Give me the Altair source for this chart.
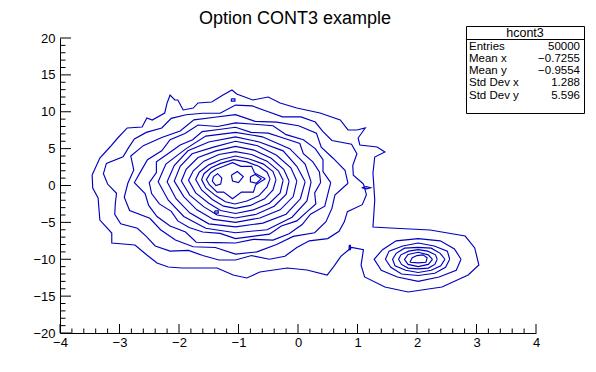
import altair as alt
import pandas as pd

# ---------------- text ----------------
TITLE = "Option CONT3 example"
STAT_HEADER = "hcont3"
stat_names = ["Entries", "Mean x", "Mean y", "Std Dev x", "Std Dev y"]
stat_values = ["50000", "\u22120.7255", "\u22120.9554", "1.288", "5.596"]

# ---------------- axes ----------------
x_major = [-4, -3, -2, -1, 0, 1, 2, 3, 4]
y_major = [-20, -15, -10, -5, 0, 5, 10, 15, 20]
x_minor = [-3.8, -3.6, -3.4, -3.2, -2.8, -2.6, -2.4, -2.2, -1.8, -1.6, -1.4, -1.2,
           -0.8, -0.6, -0.4, -0.2, 0.2, 0.4, 0.6, 0.8, 1.2, 1.4, 1.6, 1.8,
           2.2, 2.4, 2.6, 2.8, 3.2, 3.4, 3.6, 3.8]
y_minor = [-19, -18, -17, -16, -14, -13, -12, -11, -9, -8, -7, -6, -4, -3, -2, -1,
           1, 2, 3, 4, 6, 7, 8, 9, 11, 12, 13, 14, 16, 17, 18, 19]

# ---------------- contour lines ----------------
outer_x = [-3.46, -3.33, -3.16, -3.03, -2.87, -2.62, -2.54, -2.45, -2.24, -2.20, -2.15, -2.07,
           -2.02, -1.93, -1.76, -1.68, -1.45, -1.26, -1.11, -1.03, -0.76, -0.50, -0.30, -0.02,
           0.37, 0.71, 0.84, 0.99, 1.13, 1.01, 1.04, 1.33, 1.46, 1.29, 1.26, 1.29, 1.26, 1.55,
           2.22, 2.81, 2.97, 3.04, 2.86, 2.42, 1.85, 1.46, 1.12, 1.06, 1.10, 0.90, 0.72, 0.60,
           0.49, 0.15, -0.18, -0.64, -0.86, -1.09, -1.36, -1.95, -2.18, -2.37, -2.54, -2.74,
           -3.13, -3.13, -3.33, -3.36, -3.45]
outer_y = [1.42, 3.73, 5.22, 6.44, 7.80, 7.93, 9.15, 8.88, 9.83, 11.19, 12.27, 11.60,
           11.60, 10.24, 10.50, 11.19, 11.32, 12.27, 12.95, 12.41, 11.60, 12.00, 11.19, 10.50,
           9.83, 8.88, 7.53, 7.53, 7.80, 6.44, 5.49, 5.22, 4.54, 3.86, 1.69, -1.97, -5.63, -5.76,
           -6.03, -6.85, -8.47, -10.78, -12.14, -13.76, -14.44, -13.76, -12.40, -10.80, -8.70, -8.40, -9.60, -11.00,
           -12.14, -11.46, -11.19, -11.73, -12.54, -12.14, -11.19, -11.19, -11.05, -10.51, -9.42, -8.07,
           -7.80, -6.44, -4.68, -1.69, -0.34]

c2_x = [1.10, 0.93, 0.92, 0.99, 0.90, 0.57, 0.42, 0.29, 0.05, -0.26,
        -0.50, -0.77, -1.05, -1.31, -1.60, -1.88, -2.13, -2.29, -2.55, -2.75,
        -2.85, -2.94, -3.22, -3.27, -3.20, -3.05, -3.07, -3.08, -2.98, -2.70,
        -2.55, -2.40, -2.15, -1.84, -1.60, -1.33, -1.05, -0.78, -0.48, -0.22,
        -0.02, 0.19, 0.50, 0.69, 0.78, 0.83, 1.08, 1.15]
c2_y = [0.2, 1.4, 2.7, 4.3, 5.6, 6.1, 7.3, 8.6, 9.3, 9.3,
        10.0, 10.8, 10.9, 9.8, 9.8, 9.6, 9.1, 7.8, 7.2, 6.3,
        5.1, 3.9, 3.0, 1.6, 0.2, -1.05, -2.4, -3.9, -5.2, -5.8,
        -6.9, -8.2, -8.9, -8.8, -9.5, -10.1, -10.1, -9.5, -10.0, -9.6,
        -8.4, -7.5, -7.2, -6.2, -4.9, -3.55, -2.6, -1.25]

c3_x = [0.84, 0.79, 0.59, 0.39, 0.31, 0.01, -0.36, -0.72, -1.05, -1.40, -1.75, -1.98, -2.29, -2.60, -2.81, -2.76,
        -2.86, -2.92, -2.83, -2.49, -2.31, -2.06, -1.76, -1.39, -1.05, -0.69, -0.36, -0.08, 0.28, 0.47, 0.57, 0.62]
c3_y = [0.3, 2.07, 3.7, 5.2, 7.1, 8.1, 8.6, 8.7, 9.6, 9.25, 8.9, 7.4, 6.5, 5.4, 4.0, 2.1,
        0.3, -1.6, -3.4, -4.45, -6.0, -7.4, -8.3, -8.4, -9.3, -9.0, -8.0, -6.9, -6.4, -4.9, -3.1, -1.3]

c4_x = [0.55, 0.42, 0.42, 0.29, 0.09, -0.20, -0.42, -0.73, -1.05, -1.35, -1.68, -1.90, -2.15, -2.29, -2.53, -2.64,
        -2.75, -2.57, -2.51, -2.37, -2.15, -1.89, -1.71, -1.38, -1.05, -0.75, -0.42, -0.15, 0.07, 0.21, 0.45, 0.50]
c4_y = [0.4, 1.9, 3.5, 5.0, 6.2, 6.9, 8.1, 8.3, 8.5, 8.0, 8.2, 7.06, 6.2, 4.7, 3.5, 1.95,
        0.4, -1.1, -2.7, -4.2, -5.5, -6.3, -7.7, -7.75, -7.8, -7.3, -7.4, -6.55, -5.3, -3.9, -2.8, -1.2]

c5_x = [0.38, 0.36, 0.25, 0.09, 0.03, -0.235, -0.50, -0.79, -1.05, -1.33, -1.61, -1.77, -1.98, -2.18, -2.38, -2.38,
        -2.50, -2.46, -2.33, -2.13, -2.02, -1.83, -1.60, -1.31, -1.05, -0.765, -0.48, -0.28, -0.02, 0.14, 0.30, 0.28]
c5_y = [0.4, 1.84, 3.2, 4.3, 5.7, 6.4, 7.1, 7.2, 7.9, 7.6, 7.3, 6.2, 5.5, 4.35, 3.2, 1.75,
        0.4, -1.1, -2.5, -3.5, -4.8, -5.7, -6.3, -6.5, -7.2, -6.9, -6.6, -5.5, -4.8, -3.65, -2.5, -1.0]

c6_x = [0.22, 0.12, -0.14, -0.60, -1.05, -1.55, -1.88, -2.22, -2.35, -2.18, -1.92, -1.55, -1.05, -0.52, -0.10, 0.15]
c6_y = [0.5, 2.9, 5.0, 6.6, 7.2, 6.7, 5.0, 2.9, 0.5, -2.0, -4.2, -5.8, -6.4, -6.0, -4.3, -2.1]

c7_x = [0.12, -0.02, -0.25, -0.65, -1.05, -1.50, -1.85, -2.08, -2.20, -2.05, -1.82, -1.50, -1.05, -0.59, -0.20, 0.04]
c7_y = [0.5, 2.6, 4.7, 5.9, 6.6, 5.9, 4.7, 2.7, 0.5, -1.8, -3.7, -5.2, -5.6, -5.1, -3.9, -1.8]

c8_x = [-0.02, -0.12, -0.36, -0.68, -1.05, -1.42, -1.78, -1.98, -2.08, -1.92, -1.70, -1.42, -1.05, -0.64, -0.30, -0.08]
c8_y = [0.6, 2.4, 4.1, 5.4, 6.0, 5.2, 4.3, 2.6, 0.6, -1.5, -3.3, -4.6, -5.0, -4.4, -3.3, -1.5]

c9_x = [-0.15, -0.24, -0.45, -0.74, -1.05, -1.38, -1.68, -1.88, -1.96, -1.82, -1.58, -1.36, -1.05, -0.70, -0.40, -0.20]
c9_y = [0.6, 2.2, 3.7, 4.8, 5.3, 4.7, 3.8, 2.2, 0.6, -1.3, -2.9, -4.0, -4.4, -3.9, -2.8, -1.2]

c10_x = [-0.25, -0.33, -0.52, -0.78, -1.05, -1.33, -1.58, -1.76, -1.84, -1.72, -1.50, -1.30, -1.05, -0.75, -0.48, -0.30]
c10_y = [0.7, 2.0, 3.3, 4.2, 4.6, 4.2, 3.3, 2.0, 0.7, -1.0, -2.4, -3.4, -3.8, -3.3, -2.4, -1.0]

c11_x = [-0.37, -0.42, -0.58, -0.82, -1.05, -1.30, -1.50, -1.66, -1.72, -1.62, -1.44, -1.25, -1.05, -0.80, -0.56, -0.42]
c11_y = [0.8, 1.9, 2.9, 3.6, 4.0, 3.5, 2.8, 1.8, 0.8, -0.6, -1.9, -2.8, -3.1, -2.7, -1.8, -0.6]

c12_x = [-0.47, -0.52, -0.66, -0.86, -1.08, -1.30, -1.46, -1.58, -1.62, -1.55, -1.38, -1.22, -1.06, -0.86, -0.66, -0.52]
c12_y = [0.9, 1.8, 2.6, 3.2, 3.5, 3.0, 2.4, 1.6, 0.8, -0.3, -1.4, -2.2, -2.5, -2.1, -1.4, -0.2]

c13_x = [-0.55, -0.73, -0.78, -0.96, -1.10, -1.25, -1.38, -1.47, -1.54, -1.49, -1.36, -1.25, -1.10, -0.95, -0.75, -0.71]
c13_y = [0.9, 1.7, 2.6, 2.6, 3.1, 2.6, 2.2, 1.7, 0.8, 0.1, -0.9, -0.9, -1.8, -0.9, -0.9, 0.1]

isl_a_x = [-1.42, -1.35, -1.28, -1.30, -1.38, -1.44]
isl_a_y = [1.2, 1.6, 1.0, 0.2, 0.0, 0.6]
isl_b_x = [-0.80, -0.72, -0.62, -0.70, -0.80]
isl_b_y = [1.2, 1.5, 0.9, 0.3, 0.5]
isl_c_x = [-1.12, -1.02, -0.92, -1.00, -1.10]
isl_c_y = [1.4, 1.9, 1.2, 0.4, 0.6]
dot1_x = [-1.12, -1.06, -1.06, -1.12]
dot1_y = [11.75, 11.75, 11.45, 11.45]
dot2_x = [-1.40, -1.34, -1.34, -1.40]
dot2_y = [-3.45, -3.45, -3.75, -3.75]
dot3_x = [0.86, 0.88, 0.88, 0.86]
dot3_y = [-8.1, -8.1, -8.7, -8.7]
dot4_x = [1.07, 1.15, 1.22, 1.15]
dot4_y = [-0.3, -0.15, -0.3, -0.45]

s1_x = [2.74, 2.63, 2.39, 2.02, 1.65, 1.42, 1.28, 1.40, 1.67, 2.02, 2.37, 2.66]
s1_y = [-10.0, -8.6, -7.5, -7.2, -7.5, -8.7, -10.0, -11.5, -12.4, -13.0, -12.4, -11.5]
s2_x = [2.55, 2.51, 2.29, 2.02, 1.76, 1.53, 1.47, 1.56, 1.74, 2.02, 2.30, 2.48]
s2_y = [-10.0, -8.9, -8.2, -7.8, -8.2, -8.9, -10.0, -11.1, -12.0, -12.2, -11.9, -11.1]
s3_x = [2.47, 2.39, 2.24, 2.02, 1.79, 1.65, 1.59, 1.63, 1.81, 2.02, 2.24, 2.40]
s3_y = [-10.0, -9.2, -8.5, -8.4, -8.5, -9.2, -10.0, -10.9, -11.5, -11.8, -11.5, -10.9]
s4_x = [2.34, 2.31, 2.18, 2.02, 1.86, 1.73, 1.69, 1.74, 1.85, 2.02, 2.19, 2.30]
s4_y = [-10.0, -9.4, -8.9, -8.7, -8.9, -9.4, -10.0, -10.7, -11.2, -11.3, -11.2, -10.7]
s5_x = [2.26, 2.19, 2.02, 1.85, 1.79, 1.85, 2.02, 2.19]
s5_y = [-10.03, -9.4, -9.05, -9.35, -10.03, -10.7, -11.0, -10.7]
s6_x = [1.88, 1.92, 2.00, 2.10, 2.17, 2.15, 2.02]
s6_y = [-10.4, -9.8, -9.5, -9.4, -9.8, -10.4, -10.5]

contours = [
    ("outer", outer_x, outer_y), ("c2", c2_x, c2_y), ("c3", c3_x, c3_y), ("c4", c4_x, c4_y),
    ("c5", c5_x, c5_y), ("c6", c6_x, c6_y), ("c7", c7_x, c7_y), ("c8", c8_x, c8_y),
    ("c9", c9_x, c9_y), ("c10", c10_x, c10_y), ("c11", c11_x, c11_y), ("c12", c12_x, c12_y),
    ("c13", c13_x, c13_y), ("isl_a", isl_a_x, isl_a_y), ("isl_b", isl_b_x, isl_b_y),
    ("isl_c", isl_c_x, isl_c_y), ("dot1", dot1_x, dot1_y), ("dot2", dot2_x, dot2_y),
    ("dot3", dot3_x, dot3_y), ("dot4", dot4_x, dot4_y),
    ("s1", s1_x, s1_y), ("s2", s2_x, s2_y), ("s3", s3_x, s3_y), ("s4", s4_x, s4_y),
    ("s5", s5_x, s5_y), ("s6", s6_x, s6_y),
]

rows = []
for name, xs, ys in contours:
    assert len(xs) == len(ys), name
    pts = list(zip(xs, ys)) + [(xs[0], ys[0])]
    for i, (a, b) in enumerate(pts):
        rows.append({"cid": name, "i": i, "x": a, "y": b})
df = pd.DataFrame(rows)

# ---------------- chart ----------------
W, H = 476, 295
FONT = "Liberation Sans"
LINE = "#0000c0"
XS = alt.Scale(domain=[-4, 4], nice=False, zero=False)
YS = alt.Scale(domain=[-20, 20], nice=False, zero=False)

axis_common = dict(title=None, grid=False, ticks=False, tickSize=0, domain=True, domainColor="black",
                   domainWidth=1, labelFont=FONT, labelFontSize=13, labelColor="black",
                   format="d", labelFlush=False, labelOverlap=False)
X_AXIS = alt.Axis(values=x_major, labelPadding=3, **axis_common)
Y_AXIS = alt.Axis(values=y_major, labelPadding=5, **axis_common)

lines = alt.Chart(df).mark_line(color=LINE, strokeWidth=1.15).encode(
    x=alt.X("x:Q", scale=XS, axis=X_AXIS),
    y=alt.Y("y:Q", scale=YS, axis=Y_AXIS),
    detail="cid:N",
    order="i:Q",
)

def xticks(vals, length):
    return alt.Chart(pd.DataFrame({"x": vals})).mark_rule(color="black", strokeWidth=1).encode(
        x=alt.X("x:Q", scale=XS, axis=X_AXIS), y=alt.value(H), y2=alt.value(H - length))

def yticks(vals, length):
    return alt.Chart(pd.DataFrame({"y": vals})).mark_rule(color="black", strokeWidth=1).encode(
        y=alt.Y("y:Q", scale=YS, axis=Y_AXIS), x=alt.value(0), x2=alt.value(length))

one = pd.DataFrame({"k": [0]})

def txt(text, x, y, size, align="left", baseline="middle"):
    return alt.Chart(one).mark_text(text=text, font=FONT, fontSize=size, align=align,
                                    baseline=baseline, color="black").encode(
        x=alt.value(x), y=alt.value(y))

BX0, BX1, BY0, BY1, BSEP = 406.5, 524.5, -11.5, 75.5, 1.5
box = alt.Chart(one).mark_rect(fill="white", stroke="black", strokeWidth=1).encode(
    x=alt.value(BX0), x2=alt.value(BX1), y=alt.value(BY0), y2=alt.value(BY1))
sep = alt.Chart(one).mark_rule(color="black", strokeWidth=1).encode(
    x=alt.value(BX0), x2=alt.value(BX1), y=alt.value(BSEP))

layers = [lines, xticks(x_major, 9), xticks(x_minor, 4.5), yticks(y_major, 11), yticks(y_minor, 5.5),
          box, sep, txt(STAT_HEADER, 465, -5, 12.5, align="center"),
          txt(TITLE, 235, -14, 18, align="center", baseline="alphabetic")]
row_y = [8.8, 21.0, 33.2, 45.4, 57.6]
for n, v, ry in zip(stat_names, stat_values, row_y):
    layers.append(txt(n, 409, ry, 11.5))
    layers.append(txt(v, 520, ry, 11.5, align="right"))

chart = alt.layer(*layers).properties(
    width=W, height=H,
    padding={"left": 52, "top": 30, "right": 52, "bottom": 26},
    autosize=alt.AutoSizeParams(type="none"),
).configure_view(stroke=None)

chart.save("out.html", embed_options={"renderer": "svg", "actions": False})
